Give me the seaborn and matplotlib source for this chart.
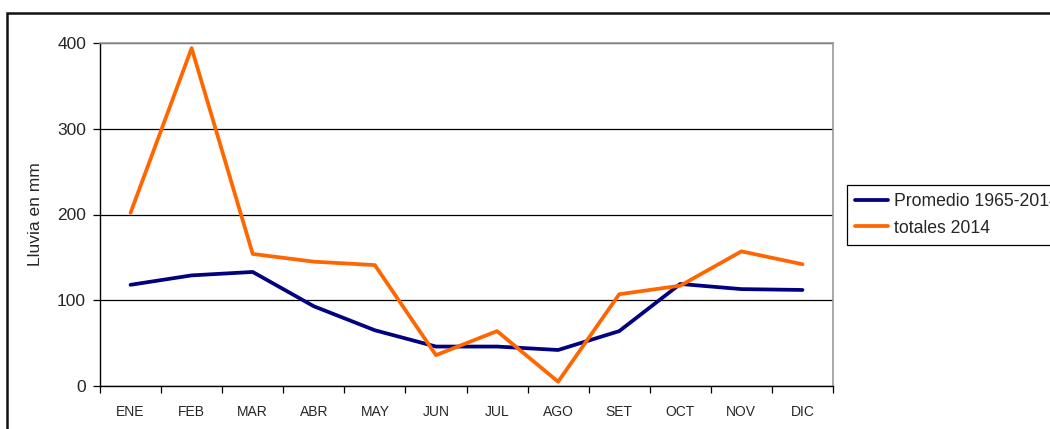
import numpy as np
import pandas as pd
import matplotlib
import matplotlib.pyplot as plt
import matplotlib.patches as mpatches
from matplotlib.ticker import FixedLocator
import seaborn as sns

# Datos
meses = ["ENE", "FEB", "MAR", "ABR", "MAY", "JUN", "JUL", "AGO", "SET", "OCT", "NOV", "DIC"]
promedio = [118, 129, 133, 93, 65, 46, 46, 42, 64, 119, 113, 112]
totales_2014 = [202, 394, 154, 145, 141, 36, 64, 5, 107, 117, 157, 142]
series = ["Promedio 1965-2014", "totales 2014"]

df = pd.DataFrame({
    "mes": meses * 2,
    "lluvia": promedio + totales_2014,
    "serie": [series[0]] * 12 + [series[1]] * 12,
})
df["pos"] = list(range(12)) * 2

sns.set_style("white")
plt.rcParams['font.family'] = ['Liberation Sans', 'DejaVu Sans']

fig = plt.figure(figsize=(10.5, 4.29), dpi=100)
ax = fig.add_axes([100 / 1050, 43 / 429, 733 / 1050, 343 / 429])

sns.lineplot(data=df, x="pos", y="lluvia", hue="serie", sort=False,
             palette={series[0]: "#000080", series[1]: "#FF6600"},
             linewidth=2.7, ax=ax, legend=False)

ax.set_xlim(-0.5, 11.5)
ax.set_ylim(0, 400)
ax.set_yticks([0, 100, 200, 300, 400])
ax.yaxis.grid(True, color="black", linewidth=0.9)
ax.set_axisbelow(True)

# etiquetas en el centro, marcas en los bordes de cada categoría
ax.set_xticks(range(12))
ax.set_xticklabels(meses, fontsize=10)
ax.xaxis.set_minor_locator(FixedLocator(np.arange(-0.5, 12, 1)))
ax.tick_params(axis="x", which="major", length=0, pad=14)
ax.tick_params(axis="x", which="minor", length=5, width=0.9, color="black", direction="out", bottom=True)
ax.tick_params(axis="y", length=5, width=0.9, color="black", direction="out", left=True, labelsize=12.5, pad=5)

ax.set_xlabel("")
ax.set_ylabel("Lluvia en mm", fontsize=12.5)
ax.yaxis.set_label_coords(-57 / 733, 0.5)

for s in ["left", "bottom"]:
    ax.spines[s].set_color("black")
    ax.spines[s].set_linewidth(1.0)
for s in ["top", "right"]:
    ax.spines[s].set_color("#999999")
    ax.spines[s].set_linewidth(1.2)

handles = [matplotlib.lines.Line2D([], [], color="#000080", linewidth=2.7),
           matplotlib.lines.Line2D([], [], color="#FF6600", linewidth=2.7)]
leg = fig.legend(handles, series, loc="upper left", bbox_to_anchor=(847 / 1050, 1 - 185 / 429),
                 fontsize=12.7, frameon=True, fancybox=False, edgecolor="black",
                 framealpha=1, handlelength=1.9, handletextpad=0.3,
                 borderpad=0.45, labelspacing=0.55, borderaxespad=0)
leg.get_frame().set_linewidth(0.9)

# marco exterior del área del gráfico
fig.patches.append(mpatches.Rectangle((7 / 1050, -0.1), 1.2, 1 - 13 / 429 + 0.1,
                                      transform=fig.transFigure, fill=False,
                                      edgecolor="#111111", linewidth=1.8))

fig.savefig("out.png", dpi=100)
